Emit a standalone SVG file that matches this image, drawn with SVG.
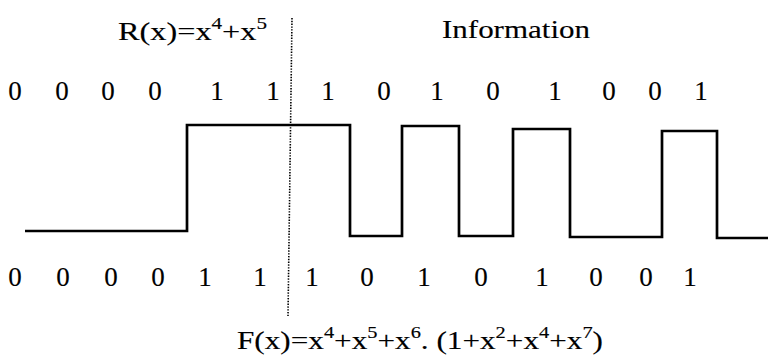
<svg xmlns="http://www.w3.org/2000/svg" width="768" height="361" viewBox="0 0 768 361">
  <style>
    text { font-family: "Liberation Serif", "Times New Roman", serif; fill: #000; stroke: #000; stroke-width: 0.15; }
    .lbl { font-size: 26px; }
    .bit { font-size: 27px; text-anchor: middle; }
    .sup { font-size: 17px; }
    .wave { fill: none; stroke: #000; stroke-width: 2.7; stroke-linejoin: miter; }
    .divider { fill: none; stroke: #000; stroke-width: 1.6; stroke-dasharray: 1.4 1.4; }
  </style>
  <rect width="768" height="361" fill="#fff"/>

  <g id="title-r">
    <text class="lbl" x="118" y="40" textLength="149" lengthAdjust="spacingAndGlyphs">R(x)=x<tspan class="sup" dy="-11">4</tspan><tspan dy="11">+x</tspan><tspan class="sup" dy="-11">5</tspan></text>
  </g>
  <g id="title-info">
    <text class="lbl" x="442" y="38" textLength="148" lengthAdjust="spacingAndGlyphs">Information</text>
  </g>

  <g id="bits-top">
    <text class="bit" x="15" y="100">0</text>
    <text class="bit" x="62" y="100">0</text>
    <text class="bit" x="108" y="100">0</text>
    <text class="bit" x="155" y="100">0</text>
    <text class="bit" x="217" y="100">1</text>
    <text class="bit" x="273" y="100">1</text>
    <text class="bit" x="328" y="100">1</text>
    <text class="bit" x="384" y="100">0</text>
    <text class="bit" x="437" y="100">1</text>
    <text class="bit" x="493" y="100">0</text>
    <text class="bit" x="555" y="100">1</text>
    <text class="bit" x="609" y="100">0</text>
    <text class="bit" x="655" y="100">0</text>
    <text class="bit" x="701" y="100">1</text>
  </g>

  <g id="connectors">
    <path id="divider" class="divider" d="M292,18 L288,316"/>
    <path id="waveform" class="wave" d="M25,231 H187 V125 H350 V236 H402 V126 H459 V236 H513 V129 H570 V237 H662 V131 H717 V238 H768"/>
  </g>

  <g id="bits-bottom">
    <text class="bit" x="15" y="286">0</text>
    <text class="bit" x="63" y="286">0</text>
    <text class="bit" x="111" y="286">0</text>
    <text class="bit" x="158" y="286">0</text>
    <text class="bit" x="205" y="286">1</text>
    <text class="bit" x="260" y="286">1</text>
    <text class="bit" x="312" y="286">1</text>
    <text class="bit" x="367" y="286">0</text>
    <text class="bit" x="424" y="286">1</text>
    <text class="bit" x="481" y="286">0</text>
    <text class="bit" x="542" y="286">1</text>
    <text class="bit" x="596" y="286">0</text>
    <text class="bit" x="646" y="286">0</text>
    <text class="bit" x="690" y="286">1</text>
  </g>

  <g id="formula-f">
    <text class="lbl" x="237" y="349" textLength="366" lengthAdjust="spacingAndGlyphs">F(x)=x<tspan class="sup" dy="-11">4</tspan><tspan dy="11">+x</tspan><tspan class="sup" dy="-11">5</tspan><tspan dy="11">+x</tspan><tspan class="sup" dy="-11">6</tspan><tspan dy="11">. (1+x</tspan><tspan class="sup" dy="-11">2</tspan><tspan dy="11">+x</tspan><tspan class="sup" dy="-11">4</tspan><tspan dy="11">+x</tspan><tspan class="sup" dy="-11">7</tspan><tspan dy="11">)</tspan></text>
  </g>
</svg>
